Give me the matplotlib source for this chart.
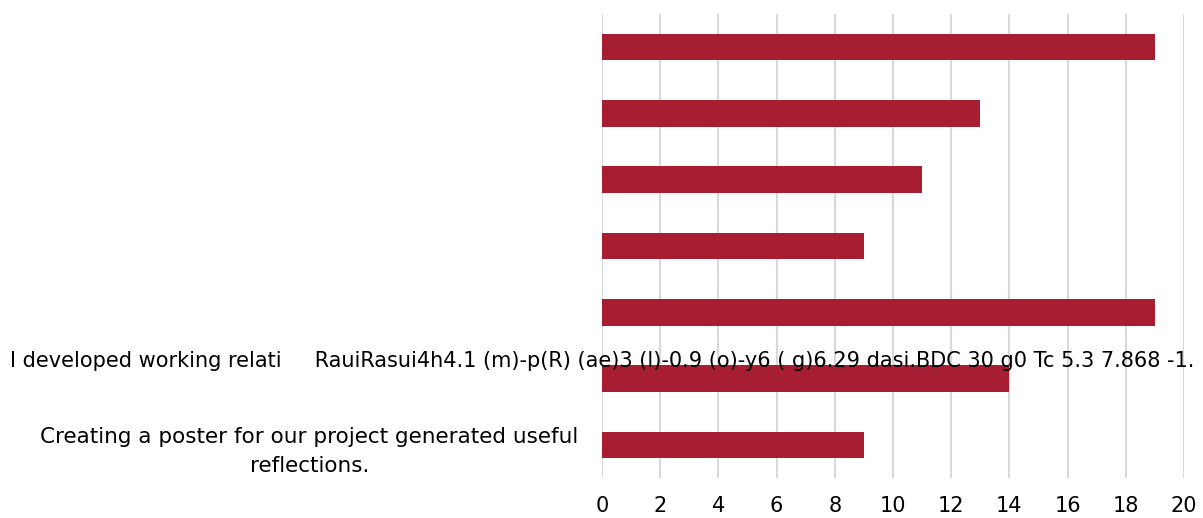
import numpy as np
import matplotlib
matplotlib.use("Agg")
import matplotlib.pyplot as plt

plt.rcParams['font.family'] = ['DejaVu Sans']

# Data (top to bottom)
categories = [
    "",
    "",
    "",
    "",
    "",
    "",
    "Creating a poster for our project generated useful\nreflections.",
]
values = [19, 13, 11, 9, 19, 14, 9]
x_ticks = list(range(0, 21, 2))
overflow_label = ("I developed working relati     RauiRasui4h4.1 (m)-p(R) (ae)3 (l)-0.9 "
                  "(o)-y6 ( g)6.29 dasi.BDC 30 g0 Tc 5.3 7.868 -1.")

bar_color = "#A71E33"
grid_color = "#D9D9D9"

fig = plt.figure(figsize=(12.03, 5.18), dpi=100)
ax = fig.add_axes([602 / 1203, 1 - 478 / 518, (1184 - 602) / 1203, (478 - 14) / 518])

positions = np.arange(len(values))
ax.barh(positions, values, height=0.4, color=bar_color, zorder=3)
ax.set_ylim(len(values) - 0.5, -0.5)
ax.set_xlim(0, 20)

ax.set_xticks(x_ticks)
ax.set_xticklabels([str(t) for t in x_ticks], fontsize=15)
ax.set_yticks(positions)
ax.set_yticklabels(categories, fontsize=15.5)
for label in ax.get_yticklabels():
    label.set_multialignment("center")
    label.set_linespacing(1.55)

ax.tick_params(axis="both", length=0)
ax.tick_params(axis="y", pad=17)
ax.tick_params(axis="x", pad=13)
ax.xaxis.grid(True, color=grid_color, linewidth=1.5, zorder=0)
ax.set_axisbelow(True)
for spine in ax.spines.values():
    spine.set_visible(False)

fig.text(10 / 1203, 1 - 361 / 518, overflow_label, fontsize=15,
         ha="left", va="center", zorder=5)

fig.savefig("out.png", dpi=100)
